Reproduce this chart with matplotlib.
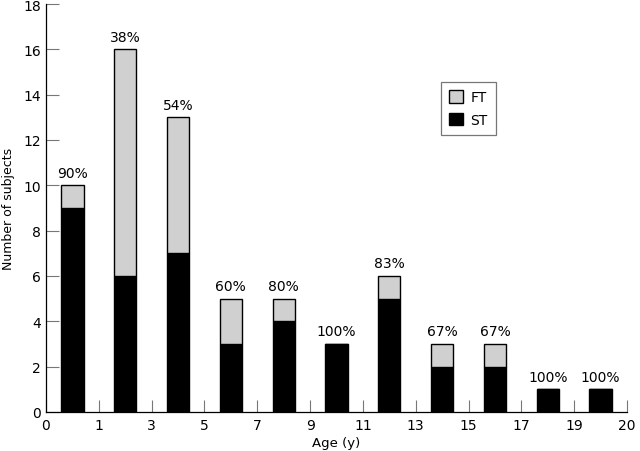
import matplotlib
matplotlib.use("Agg")
import matplotlib.pyplot as plt
import numpy as np

tick_labels = ["0", "1", "3", "5", "7", "9", "11", "13", "15", "17", "19", "20"]
st_values = [9, 6, 7, 3, 4, 3, 5, 2, 2, 1, 1]
ft_values = [1, 10, 6, 2, 1, 0, 1, 1, 1, 0, 0]
pct_labels = ["90%", "38%", "54%", "60%", "80%", "100%", "83%", "67%", "67%", "100%", "100%"]

plt.rcParams['font.family'] = ['DejaVu Sans']
fig = plt.figure(figsize=(6.4, 4.52), dpi=100)
ax = fig.add_axes([46/640, 39/452, (627-46)/640, (413-5)/452])

x = np.arange(len(st_values)) + 0.5
w = 0.42
ax.bar(x, st_values, width=w, color='black', edgecolor='black', linewidth=1, label='ST', zorder=2)
ax.bar(x, ft_values, width=w, bottom=st_values, color='#d0d0d0', edgecolor='black', linewidth=1, label='FT', zorder=2)

totals = [s + f for s, f in zip(st_values, ft_values)]
for xi, t, lab in zip(x, totals, pct_labels):
    ax.annotate(lab, (xi, t), xytext=(0, 4), textcoords='offset points', ha='center', va='bottom', fontsize=10)

ax.set_xlim(0, 11)
ax.set_ylim(0, 18)
ax.set_xticks(np.arange(12))
ax.set_xticklabels(tick_labels)
ax.set_yticks(np.arange(0, 19, 2))
ax.tick_params(axis='both', direction='in', length=9, width=0.8, color='#777777', labelsize=10)
ax.tick_params(axis='x', pad=4)
for s in ['top', 'right']:
    ax.spines[s].set_visible(False)
for s in ['left', 'bottom']:
    ax.spines[s].set_linewidth(0.9)
ax.set_xlabel("Age (y)", fontsize=9.5, labelpad=3)
ax.set_ylabel("Number of subjects", fontsize=9, labelpad=6)

handles, labels = ax.get_legend_handles_labels()
leg = ax.legend(handles[::-1], labels[::-1], loc='upper left', bbox_to_anchor=(441/640, 1-83/452),
                bbox_transform=fig.transFigure, borderaxespad=0, fancybox=False, frameon=True,
                edgecolor='#555555', fontsize=10, handlelength=1.0, handleheight=1.0,
                borderpad=0.6, labelspacing=0.6, handletextpad=0.5)
leg.get_frame().set_linewidth(0.9)

fig.savefig("out.png", dpi=100)
